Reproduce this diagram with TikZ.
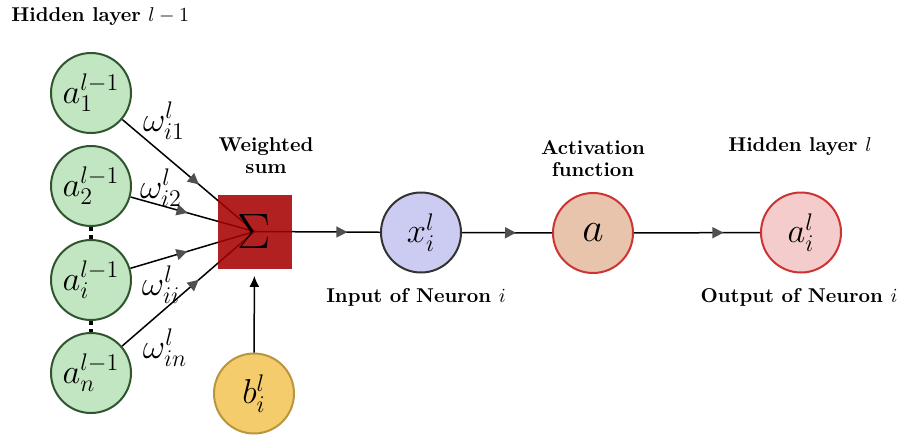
\documentclass[tikz,border=0pt]{standalone}
\usetikzlibrary{arrows.meta,decorations.markings,backgrounds}
\definecolor{ingreen}{RGB}{194,230,194}
\definecolor{ingreenb}{RGB}{47,85,47}
\definecolor{sigred}{RGB}{166,0,0}
\definecolor{xfill}{RGB}{204,204,242}
\definecolor{xdraw}{RGB}{51,51,51}
\definecolor{afill}{RGB}{232,196,172}
\definecolor{redb}{RGB}{204,51,51}
\definecolor{ofill}{RGB}{244,204,204}
\definecolor{bfill}{RGB}{244,204,108}
\definecolor{bdraw}{RGB}{184,150,60}
\definecolor{arrgray}{RGB}{80,80,80}
\begin{document}
\begin{tikzpicture}[x=0.5pt,y=-0.5pt,
  neuron/.style={circle, minimum size=40pt, inner sep=0pt, line width=1pt, font=\LARGE},
  inneuron/.style={neuron, fill=ingreen, draw=ingreenb},
  lbl/.style={font=\bfseries, align=center, inner sep=0pt},
  wlbl/.style={font=\LARGE, inner sep=0pt},
  conn/.style={line width=0.75pt, black},
  midarr/.style={postaction={decorate}, decoration={markings, mark=at position #1 with {\arrow{Triangle[length=5.5pt,width=5.5pt,color=arrgray]}}}},
]
\useasboundingbox (0,0) rectangle (899,434);
% neurons
\node[inneuron] (a1) at (91,93) {$a_1^{l-1}$};
\node[inneuron] (a2) at (91,186) {$a_2^{l-1}$};
\node[inneuron] (ai) at (91,280) {$a_i^{l-1}$};
\node[inneuron] (an) at (91,373) {$a_n^{l-1}$};
\node[rectangle, minimum size=37pt, inner sep=0pt, fill=sigred, fill opacity=0.87, text opacity=1, font=\Huge] (S) at (254.5,231.5) {$\Sigma$};
\node[neuron, fill=xfill, draw=xdraw] (x) at (421,232.5) {$x_i^l$};
\node[neuron, fill=afill, draw=redb, font=\huge] (act) at (593,233) {$a$};
\node[neuron, fill=ofill, draw=redb] (out) at (801,232.5) {$a_i^l$};
\node[neuron, fill=bfill, draw=bdraw] (b) at (254,393.5) {$b_i^l$};
% labels
\node[lbl, anchor=west] (t1) at (11,17) {Hidden layer $l-1$};
\node[lbl] (t2) at (266,156) {Weighted\\[-1pt]sum};
\node[lbl] (t3) at (593,159) {Activation\\[-1pt]function};
\node[lbl] (t4) at (800,147) {Hidden layer $l$};
\node[lbl] (t5) at (416,297) {Input of Neuron $i$};
\node[lbl] (t6) at (799,297) {Output of Neuron $i$};
\node[wlbl] (w1) at (164,121) {$\omega_{i1}^l$};
\node[wlbl] (w2) at (161,188) {$\omega_{i2}^l$};
\node[wlbl] (w3) at (161,285) {$\omega_{ii}^l$};
\node[wlbl] (w4) at (165,348) {$\omega_{in}^l$};
% connectors
\begin{scope}[on background layer]
\draw[conn, midarr=0.58] (a1) -- (S.center);
\draw[conn, midarr=0.46] (a2) -- (S.center);
\draw[conn, midarr=0.46] (ai) -- (S.center);
\draw[conn, midarr=0.58] (an) -- (S.center);
\draw[conn, midarr=0.74] (S.center) -- (x);
\end{scope}
\draw[conn, midarr=0.60] (x) -- (act);
\draw[conn, midarr=0.71] (act) -- (out);
\draw[conn, -{Latex[length=5.5pt,width=5pt]}, shorten >=3.5pt] (b) -- (S);
\draw[line width=2pt, dotted] (a2) -- (ai);
\draw[line width=2pt, dotted] (ai) -- (an);
\end{tikzpicture}
\end{document}
